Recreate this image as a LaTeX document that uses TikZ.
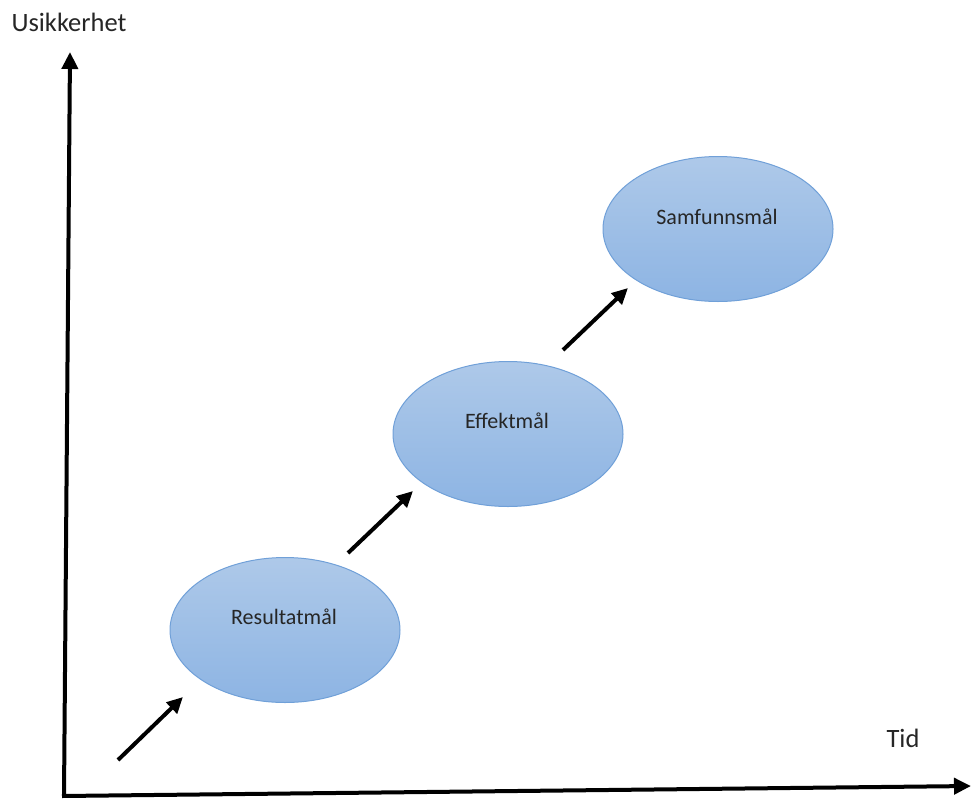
\documentclass[tikz,border=0pt]{standalone}
\usepackage{fontspec}
\setmainfont{Carlito}
\usetikzlibrary{shapes.geometric, arrows.meta, positioning}
\definecolor{goaltop}{RGB}{174, 201, 233}
\definecolor{goalbottom}{RGB}{141, 180, 227}
\definecolor{goalline}{RGB}{112, 160, 216}

\begin{document}
\begin{tikzpicture}[
  x=1pt, y=-1pt,
  goal/.style={ellipse, draw=goalline, line width=1pt, top color=goaltop, bottom color=goalbottom, minimum width=230pt, minimum height=145pt, inner sep=0pt},
  goaltext/.style={font=\fontsize{22}{26}\selectfont, text=black!85},
  axis/.style={line width=4pt, -{Triangle[length=17pt, width=16pt]}},
  step arrow/.style={line width=4pt, -{Triangle[length=16pt, width=15pt]}},
  axislabel/.style={font=\fontsize{26.5}{31}\selectfont, text=black!85}
]
  \useasboundingbox (0,0) rectangle (971,798);

  \coordinate (origin) at (64,796);
  \coordinate (ytop) at (70,52);
  \coordinate (xend) at (971,786);
  \draw[axis] (origin) -- (ytop);
  \draw[axis] (62,796) -- (xend);
  \node[axislabel] (ylab) at (69,22) {Usikkerhet};
  \node[axislabel] (xlab) at (903,738) {Tid};

  \node[goal] (res) at (285,630) {};
  \node[goal] (eff) at (508,434) {};
  \node[goal] (samf) at (718,229) {};
  \node[goaltext] (restext) at (284,617) {Resultatmål};
  \node[goaltext] (efftext) at (507,421) {Effektmål};
  \node[goaltext] (samftext) at (717,217) {Samfunnsmål};

  \coordinate (a0) at (118,760);
  \coordinate (a1) at (183,697);
  \coordinate (b0) at (348,553);
  \coordinate (b1) at (413,491);
  \coordinate (c0) at (563,350);
  \coordinate (c1) at (628,288);
  \draw[step arrow] (a0) -- (a1);
  \draw[step arrow] (b0) -- (b1);
  \draw[step arrow] (c0) -- (c1);
\end{tikzpicture}
\end{document}
